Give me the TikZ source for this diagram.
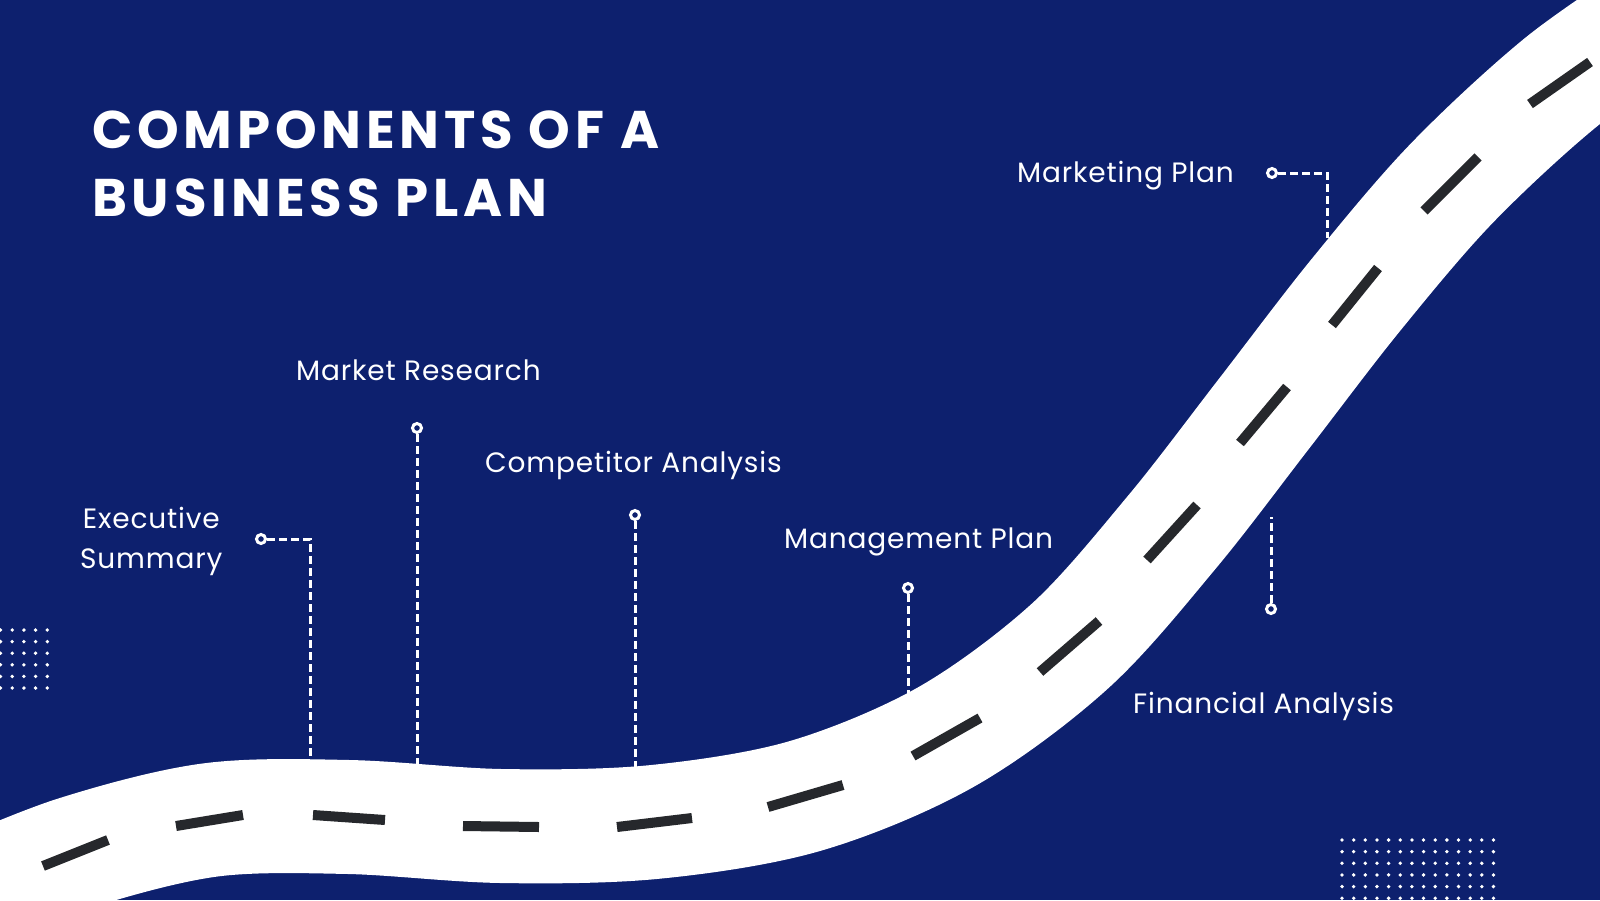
\documentclass[tikz,border=0pt]{standalone}
\usepackage{fontspec}
\setmainfont{Poppins}[LetterSpace=3]
\newfontfamily\titlefont[LetterSpace=9]{Poppins}
\usepackage{tikz}
\definecolor{navyblue}{RGB}{13,32,110}
\definecolor{lanegray}{RGB}{38,40,44}

\begin{document}
\begin{tikzpicture}[x=1pt,y=-1pt,
    label/.style={text=white, font=\fontsize{28}{40}\selectfont, inner sep=0pt},
    pin/.style={circle, draw=white, fill=navyblue, line width=3pt, minimum size=9pt, inner sep=0pt},
    lead/.style={white, line width=3pt, dash pattern=on 8pt off 4pt},
    lane/.style={lanegray, line width=10pt}]
    \useasboundingbox (0,0) rectangle (1600,900);
    \fill[navyblue] (0,0) rectangle (1600,900);

    \node[anchor=base west, text=white, inner sep=0pt, align=left,
          font=\titlefont\bfseries\fontsize{53}{68}\selectfont] (title) at (92,216)
          {COMPONENTS OF A\\BUSINESS PLAN};

    \draw[white, line width=114pt] plot[smooth, tension=0.55] coordinates {
        (-40,899) (75,853) (210,820) (349,817) (501,826) (654,822) (805,796)
        (946,737) (1070,646) (1172,532) (1263,415) (1355,296) (1451,184)
        (1560,83) (1660,13)};
    \foreach \xa/\ya/\xb/\yb in {43/866/108/840, 176/826/243/815, 313/815/385/820,
        463/826/539/827, 617/827/692/818, 768/807/843/785, 913/756/980/718,
        1040/672/1099/621, 1147/560/1197/505, 1240/443/1287/387,
        1332/325/1378/268, 1424/211/1478/157, 1530/104/1590/62} {
        \draw[lane] (\xa,\ya) -- (\xb,\yb);
    }

    \foreach \i in {0,...,4} {
        \foreach \j in {0,...,5} {
            \fill[white] (0.5+11.7*\i, 630+11.6*\j) circle (1.9pt);
        }
    }
    \foreach \i in {0,...,13} {
        \foreach \j in {0,...,5} {
            \fill[white] (1342+11.65*\i, 840+11.65*\j) circle (1.9pt);
        }
    }

    \node[label, anchor=base west, align=center] (es) at (80,568) {Executive\\Summary};
    \node[label, anchor=base west] (mr) at (296,380) {Market Research};
    \node[label, anchor=base west] (ca) at (485,472) {Competitor Analysis};
    \node[label, anchor=base west] (mp) at (784,548) {Management Plan};
    \node[label, anchor=base west] (mk) at (1017,182) {Marketing Plan};
    \node[label, anchor=base west] (fa) at (1133,713) {Financial Analysis};

    \node[pin] (es-pin) at (261,539) {};
    \node[pin] (mr-pin) at (417,428) {};
    \node[pin] (ca-pin) at (635,515) {};
    \node[pin] (mp-pin) at (908,588) {};
    \node[pin] (mk-pin) at (1272,173) {};
    \node[pin] (fa-pin) at (1271,609) {};

    \coordinate (es-end) at (310,757);
    \coordinate (mr-end) at (417,764);
    \coordinate (ca-end) at (635,768);
    \coordinate (mp-end) at (908,697);
    \coordinate (mk-end) at (1327,238);
    \coordinate (fa-end) at (1271,517);

    \draw[lead] (es-pin) -| (es-end);
    \draw[lead] (mr-pin) -- (mr-end);
    \draw[lead] (ca-pin) -- (ca-end);
    \draw[lead] (mp-pin) -- (mp-end);
    \draw[lead] (mk-pin) -| (mk-end);
    \draw[lead] (fa-pin) -- (fa-end);
\end{tikzpicture}
\end{document}
